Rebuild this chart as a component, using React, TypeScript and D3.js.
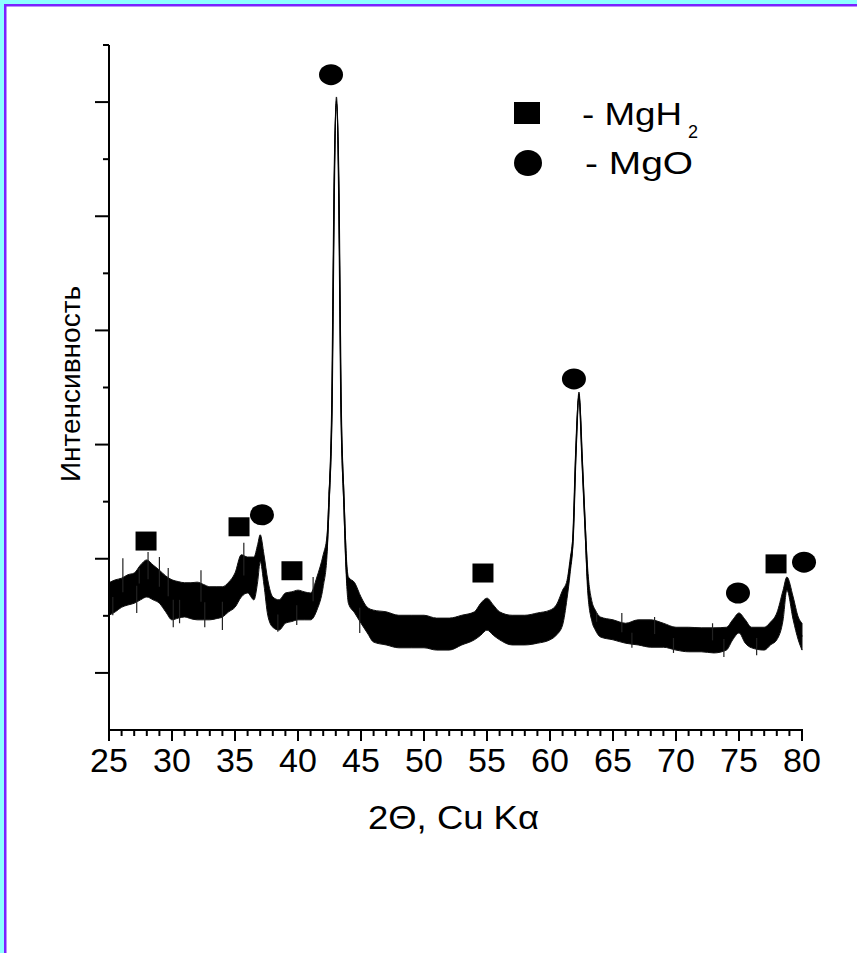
import React from "react";
import * as d3 from "d3";

// 2θ positions and band envelope (upper / lower) of the noisy XRD trace
const TWO_THETA = [
  25.0, 25.5, 26.0, 26.5, 27.0, 27.5, 28.0, 28.5, 29.0, 29.5, 30.0, 30.5, 31.0, 31.5, 32.0, 32.5, 33.0, 33.5, 34.0, 34.5,
  35.0, 35.5, 36.0, 36.5, 36.8, 37.0, 37.3, 37.6, 38.0, 38.5, 39.0, 39.5, 40.0, 40.5, 41.0, 41.5, 42.0, 42.3, 42.46, 42.7,
  42.78, 42.86, 43.05, 43.25, 43.33, 43.41, 43.65, 43.8, 44.0, 44.5, 45.0, 45.5, 46.0, 47.0, 48.0, 49.0, 50.0, 51.0, 52.0, 53.0,
  54.0, 54.5, 55.0, 55.5, 56.0, 57.0, 58.0, 59.0, 60.0, 60.5, 61.0, 61.35, 61.6, 61.83, 62.05, 62.3, 62.55, 62.78, 63.0, 63.33,
  63.6, 64.0, 65.0, 66.0, 67.0, 68.0, 69.0, 70.0, 71.0, 72.0, 73.0, 74.0, 74.5, 75.0, 75.5, 76.0, 77.0, 77.5, 78.0, 78.5,
  78.8, 79.3, 79.7, 80.0,
];
const UPPER = [
  2.58, 2.63, 2.66, 2.72, 2.75, 2.89, 2.98, 2.89, 2.8, 2.7, 2.63, 2.6, 2.58, 2.58, 2.59, 2.55, 2.51, 2.51, 2.51, 2.59,
  2.75, 3.07, 3.03, 3.03, 3.25, 3.42, 3.07, 2.63, 2.33, 2.28, 2.4, 2.42, 2.45, 2.42, 2.4, 2.68, 3.07, 3.4, 4.1, 5.85,
  7.55, 9.3, 11.09, 9.3, 7.55, 5.85, 4.1, 3.2, 2.68, 2.58, 2.33, 2.15, 2.1, 2.07, 2.01, 2.01, 2.01, 1.96, 1.96, 2.01,
  2.07, 2.22, 2.31, 2.19, 2.07, 2.01, 2.01, 2.05, 2.1, 2.19, 2.45, 2.62, 3.0, 3.45, 4.9, 5.92, 4.8, 3.68, 2.8, 2.25,
  2.1, 1.98, 1.93, 1.87, 1.93, 1.93, 1.87, 1.8, 1.8, 1.79, 1.79, 1.8, 1.93, 2.05, 1.93, 1.8, 1.8, 1.89, 2.05, 2.45,
  2.68, 2.33, 1.98, 1.87,
];
const LOWER = [
  2.01, 2.07, 2.15, 2.19, 2.22, 2.28, 2.33, 2.28, 2.22, 2.07, 1.93, 1.96, 1.98, 1.95, 1.93, 1.93, 1.93, 1.95, 1.98, 2.07,
  2.15, 2.33, 2.4, 2.28, 2.6, 2.95, 2.54, 2.01, 1.8, 1.75, 1.87, 1.9, 1.93, 1.93, 1.93, 2.1, 2.51, 3.05, 3.9, 5.7,
  7.45, 9.2, 10.95, 9.2, 7.45, 5.7, 3.85, 2.85, 2.22, 2.05, 1.87, 1.7, 1.54, 1.49, 1.44, 1.44, 1.44, 1.4, 1.4, 1.49,
  1.58, 1.66, 1.75, 1.66, 1.58, 1.49, 1.49, 1.52, 1.58, 1.66, 1.84, 2.3, 2.75, 3.3, 4.78, 5.84, 4.68, 3.52, 2.4, 1.9,
  1.75, 1.63, 1.58, 1.52, 1.49, 1.45, 1.45, 1.4, 1.37, 1.37, 1.35, 1.4, 1.58, 1.7, 1.52, 1.44, 1.4, 1.49, 1.58, 1.93,
  2.45, 1.93, 1.58, 1.4,
];

// isolated noise spikes reaching beyond the band
const SPIKE_X = [
  25.3, 26.1, 27.2, 27.4, 28.1, 29.0, 29.7, 30.1, 30.6, 32.3, 32.6, 34.0, 35.7, 38.4, 39.9, 41.2, 44.9, 63.7, 65.7, 66.5,
  68.3, 69.8, 72.9, 73.8, 76.4,
];
const SPIKE_Y = [
  2.01, 3.01, 2.05, 2.84, 3.12, 3.03, 2.84, 1.8, 1.87, 2.8, 1.8, 1.75, 3.28, 1.72, 1.84, 2.68, 1.7, 2.05, 2.05, 1.44,
  1.98, 1.35, 1.87, 1.28, 1.31,
];

// phase markers
const MGH2_X = [27.94, 35.32, 39.52, 54.68, 77.94];
const MGH2_Y = [3.31, 3.56, 2.79, 2.75, 2.91];
const MGO_X = [37.14, 42.62, 61.9, 74.92, 80.16];
const MGO_Y = [3.77, 11.48, 6.15, 2.4, 2.94];

const X_TICKS = [25, 30, 35, 40, 45, 50, 55, 60, 65, 70, 75, 80];
const Y_MAJOR = [1, 3, 5, 7, 9, 11];
const Y_MINOR = [2, 4, 6, 8, 10, 12];

const FONT = "'Liberation Sans', Arial, sans-serif";

export default function App() {
  const W = 857;
  const H = 953;
  const x = d3.scaleLinear().domain([25, 80]).range([109, 802]);
  const y = d3.scaleLinear().domain([0, 12]).range([730, 45]);

  const rows = TWO_THETA.map((t, i) => ({ t, hi: UPPER[i], lo: LOWER[i] }));
  const area = d3
    .area<{ t: number; hi: number; lo: number }>()
    .x((d) => x(d.t))
    .y0((d) => y(d.lo))
    .y1((d) => y(d.hi))
    .curve(d3.curveMonotoneX);
  const mid = d3
    .line<{ t: number; hi: number; lo: number }>()
    .x((d) => x(d.t))
    .y((d) => y((d.hi + d.lo) / 2))
    .curve(d3.curveMonotoneX);

  const midAt = (t: number) => {
    const i = d3.bisectLeft(TWO_THETA, t);
    const i0 = Math.max(0, i - 1);
    const i1 = Math.min(TWO_THETA.length - 1, i);
    const m0 = (UPPER[i0] + LOWER[i0]) / 2;
    const m1 = (UPPER[i1] + LOWER[i1]) / 2;
    if (i0 === i1) return m0;
    const f = (t - TWO_THETA[i0]) / (TWO_THETA[i1] - TWO_THETA[i0]);
    return m0 + f * (m1 - m0);
  };

  const minor = d3.range(25, 81, 1);

  return (
    <svg
      width={W}
      height={H}
      style={{ position: "absolute", left: 0, top: 0, background: "#fff" }}
      fontFamily={FONT}
    >
      <rect x={0} y={0} width={W} height={H} fill="#fff" />
      {/* frame */}
      <rect x={0} y={0} width={W} height={4} fill="#8cffff" />
      <rect x={0} y={0} width={4} height={H} fill="#8cffff" />
      <rect x={4} y={4} width={W - 4} height={2.5} fill="#7b22ff" />
      <rect x={4} y={4} width={2.5} height={H - 4} fill="#7b22ff" />

      {/* trace */}
      <path d={area(rows) || ""} fill="#000" stroke="#111" strokeWidth={1} />
      <path d={mid(rows) || ""} fill="none" stroke="#000" strokeWidth={1.6} />
      {SPIKE_X.map((t, i) => (
        <line key={"s" + i} x1={x(t)} x2={x(t)} y1={y(midAt(t))} y2={y(SPIKE_Y[i])} stroke="#222" strokeWidth={1.2} />
      ))}

      {/* axes */}
      <line x1={x(25)} x2={x(25)} y1={y(0)} y2={y(12)} stroke="#000" strokeWidth={2} />
      <line x1={x(25) - 1} x2={x(80) + 1} y1={y(0)} y2={y(0)} stroke="#000" strokeWidth={2} />
      {minor.map((v) => (
        <line
          key={"xm" + v}
          x1={x(v)}
          x2={x(v)}
          y1={y(0)}
          y2={y(0) + (v % 5 === 0 ? 11 : 6)}
          stroke="#000"
          strokeWidth={2}
        />
      ))}
      {Y_MAJOR.map((v) => (
        <line key={"yM" + v} x1={x(25) - 14} x2={x(25)} y1={y(v)} y2={y(v)} stroke="#000" strokeWidth={2} />
      ))}
      {Y_MINOR.map((v) => (
        <line key={"ym" + v} x1={x(25) - 6} x2={x(25)} y1={y(v)} y2={y(v)} stroke="#000" strokeWidth={2} />
      ))}
      {X_TICKS.map((v) => (
        <text key={"xl" + v} x={x(v)} y={772} textAnchor="middle" fontSize={34} fill="#000">
          {v}
        </text>
      ))}

      {/* axis titles */}
      <text x={368} y={829} fontSize={33} fill="#000" textLength={171} lengthAdjust="spacingAndGlyphs">
        2Θ, Cu Kα
      </text>
      <text transform="translate(80,384) rotate(-90)" textAnchor="middle" fontSize={28} fill="#000">
        Интенсивность
      </text>

      {/* markers */}
      {MGH2_X.map((t, i) => (
        <rect key={"q" + i} x={x(t) - 10.5} y={y(MGH2_Y[i]) - 9.5} width={21} height={19} fill="#000" />
      ))}
      {MGO_X.map((t, i) => (
        <ellipse key={"c" + i} cx={x(t)} cy={y(MGO_Y[i])} rx={12} ry={10.5} fill="#000" />
      ))}

      {/* legend */}
      <rect x={514} y={102} width={26} height={22} fill="#000" />
      <text x={582} y={125} fontSize={31} fill="#000" textLength={100} lengthAdjust="spacingAndGlyphs">
        - MgH
      </text>
      <text x={688} y={138} fontSize={18} fill="#000">
        2
      </text>
      <ellipse cx={528} cy={163} rx={14} ry={13} fill="#000" />
      <text x={585} y={174} fontSize={31} fill="#000" textLength={108} lengthAdjust="spacingAndGlyphs">
        - MgO
      </text>
    </svg>
  );
}
